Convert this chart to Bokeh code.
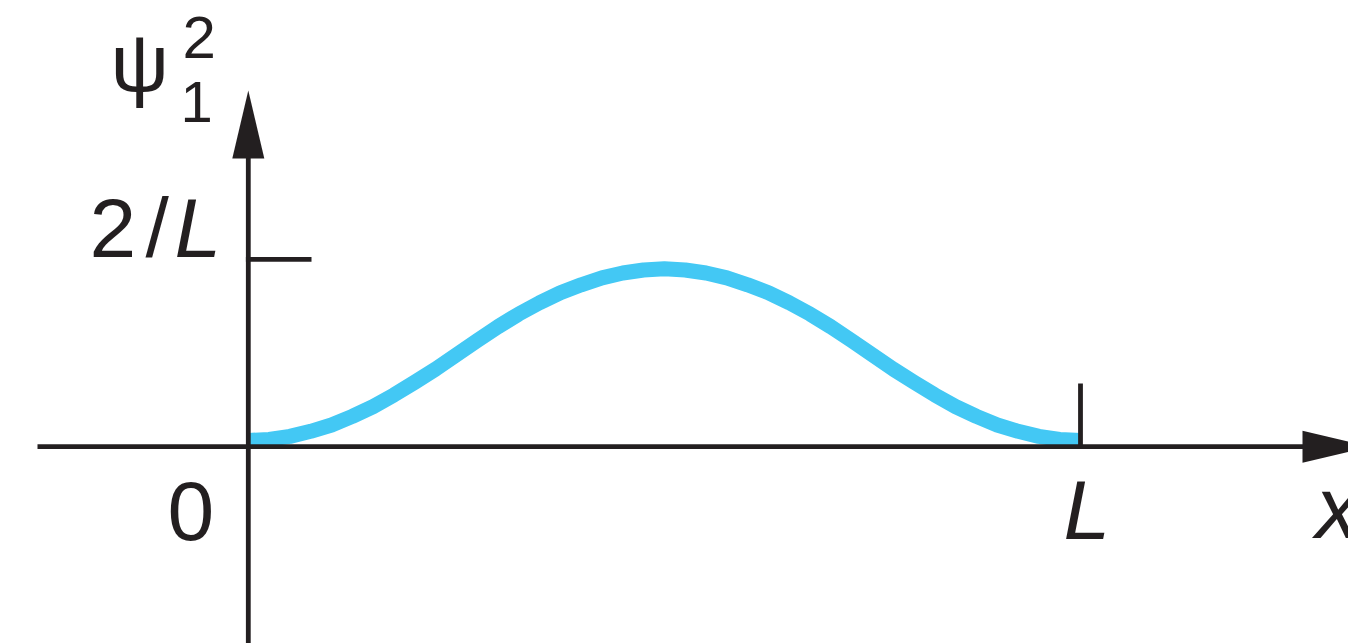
from bokeh.plotting import figure
from bokeh.models import Range1d, Label
from bokeh.embed import file_html
from bokeh.resources import INLINE

# Probability density of the ground state in a box, x in units of L, psi^2 in units of 2/L
x_pos = [0.000, 0.025, 0.050, 0.075, 0.100, 0.125, 0.150, 0.175, 0.200, 0.225,
         0.250, 0.275, 0.300, 0.325, 0.350, 0.375, 0.400, 0.425, 0.450, 0.475,
         0.500, 0.525, 0.550, 0.575, 0.600, 0.625, 0.650, 0.675, 0.700, 0.725,
         0.750, 0.775, 0.800, 0.825, 0.850, 0.875, 0.900, 0.925, 0.950, 0.975, 1.000]
psi_sq = [0.033, 0.039, 0.055, 0.082, 0.116, 0.162, 0.214, 0.276, 0.344, 0.414,
          0.490, 0.566, 0.640, 0.708, 0.768, 0.822, 0.864, 0.901, 0.927, 0.943,
          0.949, 0.943, 0.927, 0.901, 0.864, 0.822, 0.768, 0.708, 0.640, 0.566,
          0.490, 0.414, 0.344, 0.276, 0.214, 0.162, 0.116, 0.082, 0.055, 0.039, 0.033]

x_tick_value = 1.0        # x = L
y_tick_value = 1.0        # psi^2 = 2/L

INK = "#231F20"
CURVE = "#43C8F4"
FONT = "Liberation Sans"

W, H = 1348, 643
# pixel position of the origin and pixels per unit on each axis
OX, OY = 247.8, 446.2
SX, SY = 832.2, 187.4


def dx(px):
    return (px - OX) / SX


def dy(py):
    return (OY - py) / SY


p = figure(width=W, height=H, output_backend="svg", toolbar_location=None,
           x_axis_type=None, y_axis_type=None, min_border=0,
           x_range=Range1d(dx(0), dx(W)), y_range=Range1d(dy(H), dy(0)))
p.grid.visible = False
p.outline_line_color = None
p.background_fill_color = "white"
p.border_fill_color = "white"

# curve
p.line(x_pos, psi_sq, line_width=15, line_color=CURVE, line_join="round", line_cap="butt")

AW = 4.8  # axis stroke width
HEAD_LEN, HEAD_HALF = 68, 16

# vertical axis with arrow head
v_tip = dy(90)
p.line([0, 0], [dy(H + 10), dy(90 + HEAD_LEN - 2)], line_width=AW, line_color=INK)
p.patch([0, -HEAD_HALF / SX, HEAD_HALF / SX],
        [v_tip, v_tip - HEAD_LEN / SY, v_tip - HEAD_LEN / SY], color=INK, line_width=0)

# horizontal axis with arrow head
h_tip = dx(1370)
p.line([dx(37), dx(1370 - HEAD_LEN + 2)], [0, 0], line_width=AW, line_color=INK)
p.patch([h_tip, h_tip - HEAD_LEN / SX, h_tip - HEAD_LEN / SX],
        [0, HEAD_HALF / SY, -HEAD_HALF / SY], color=INK, line_width=0)

# tick marks at 2/L and at L
p.line([dx(OX - AW / 2), dx(311)], [y_tick_value, y_tick_value], line_width=AW, line_color=INK)
p.line([x_tick_value, x_tick_value], [0, dy(383)], line_width=AW, line_color=INK)


def label(text, px, base_py, size, style="normal"):
    # base_py is where the glyph baseline should sit; the label anchor sits a bit above it
    py = base_py - 0.36 * size
    p.add_layout(Label(x=dx(px), y=dy(py), text=text, text_font=FONT,
                       text_font_size=f"{size}px", text_font_style=style,
                       text_color=INK, text_align="left", text_baseline="alphabetic"))


# axis title psi_1^2
label("ψ", 110, 92, 82)
label("2", 182, 59, 60)
label("1", 180, 122, 58)

# y tick label 2/L
label("2", 89, 258, 84)
label("/", 145, 258, 84)
label("L", 174, 258, 84, "italic")

# x tick labels and axis name
label("0", 167, 541, 84)
label("L", 1063, 540, 84, "italic")
label("x", 1315, 539, 88, "italic")

open("out.html", "w").write(file_html(p, INLINE))
